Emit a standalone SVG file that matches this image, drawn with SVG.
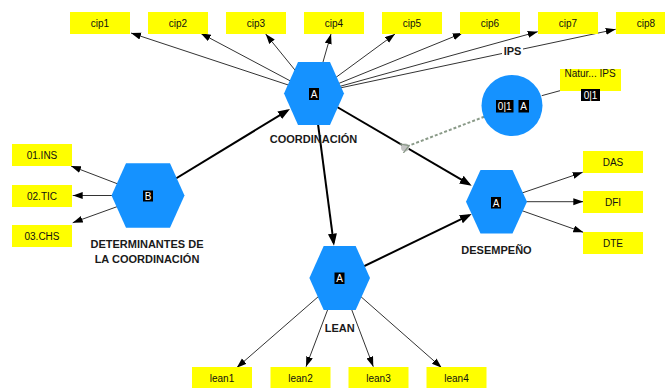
<svg xmlns="http://www.w3.org/2000/svg" width="665" height="388" viewBox="0 0 665 388">
  <style>
    .ind rect { fill: #ffff00; }
    .ind text { font-family: "Liberation Sans", Arial, sans-serif; font-size: 10px; fill: #111; text-anchor: middle; }
    .hex { fill: #1592ff; }
    .tag rect { fill: #000; }
    .tag text { font-family: "Liberation Sans", Arial, sans-serif; font-size: 10px; fill: #fff; text-anchor: middle; }
    .name { font-family: "Liberation Sans", Arial, sans-serif; font-size: 11px; font-weight: bold; fill: #1a1a1a; text-anchor: middle; }
    .thin { stroke: #333; stroke-width: 1; fill: none; marker-end: url(#ah); }
    .thick { stroke: #000; stroke-width: 2; fill: none; marker-end: url(#ahb); }
    .dash { stroke: #8a9a88; stroke-width: 2; stroke-dasharray: 3 2; fill: none; marker-end: url(#aho); }
  </style>
  <defs>
    <marker id="ah" markerUnits="userSpaceOnUse" markerWidth="10" markerHeight="8" refX="10" refY="3.5" orient="auto">
      <path d="M0,0 L10,3.5 L0,7 z" fill="#000"/>
    </marker>
    <marker id="ahb" markerUnits="userSpaceOnUse" markerWidth="13" markerHeight="10" refX="9" refY="4.5" orient="auto">
      <path d="M0,0 L12,4.5 L0,9 z" fill="#000"/>
    </marker>
    <marker id="aho" markerUnits="userSpaceOnUse" markerWidth="12" markerHeight="12" refX="1" refY="5" orient="auto">
      <path d="M9,0 L1,5 L9,10" fill="none" stroke="#8a9a88" stroke-width="1.3"/>
    </marker>
  </defs>

  <!-- connectors -->
  <g id="connectors">
    <!-- COORDINACIÓN outer loadings -->
    <line class="thin" x1="314" y1="93.5" x2="131" y2="33"/>
    <line class="thin" x1="314" y1="93.5" x2="200.7" y2="33.3"/>
    <line class="thin" x1="314" y1="93.5" x2="265.7" y2="34"/>
    <line class="thin" x1="314" y1="93.5" x2="331" y2="34"/>
    <line class="thin" x1="314" y1="93.5" x2="395" y2="34"/>
    <line class="thin" x1="314" y1="93.5" x2="462.7" y2="33"/>
    <line class="thin" x1="314" y1="93.5" x2="537.7" y2="31.7"/>
    <line class="thin" x1="314" y1="93.5" x2="615.7" y2="29.3"/>
    <!-- DETERMINANTES outer weights -->
    <line class="thin" x1="148" y1="195.5" x2="71" y2="166"/>
    <line class="thin" x1="148" y1="195.5" x2="72.7" y2="195.5"/>
    <line class="thin" x1="148" y1="195.5" x2="72.7" y2="222.7"/>
    <!-- DESEMPEÑO outer loadings -->
    <line class="thin" x1="496.5" y1="201.7" x2="582.7" y2="172.3"/>
    <line class="thin" x1="496.5" y1="201.7" x2="583.3" y2="201.7"/>
    <line class="thin" x1="496.5" y1="201.7" x2="583.3" y2="232.3"/>
    <!-- LEAN outer loadings -->
    <line class="thin" x1="339.7" y1="278" x2="236.7" y2="367.7"/>
    <line class="thin" x1="339.7" y1="278" x2="306" y2="366.7"/>
    <line class="thin" x1="339.7" y1="278" x2="373.3" y2="366.7"/>
    <line class="thin" x1="339.7" y1="278" x2="441.7" y2="367.7"/>
    <!-- structural paths -->
    <line class="thick" x1="148" y1="195.5" x2="287.4" y2="110.6"/>
    <line class="thick" x1="314" y1="93.5" x2="333.6" y2="242.7"/>
    <line class="thick" x1="314" y1="93.5" x2="469.1" y2="184.2"/>
    <line class="thick" x1="339.7" y1="278" x2="469" y2="215.3"/>
    <!-- moderating effect -->
    <line x1="541.7" y1="95.7" x2="560" y2="90.7" stroke="#333" stroke-width="1"/>
    <circle cx="405" cy="147.5" r="4" fill="#c4c4c4"/>
    <line class="dash" x1="484.3" y1="116.7" x2="409" y2="145.6"/>
    <!-- IPS label on the path -->
    <rect x="502" y="44" width="21" height="13" fill="#fff"/>
    <text class="name" x="512.5" y="54.5">IPS</text>
  </g>

  <!-- indicators -->
  <g id="cip1" class="ind"><rect x="70" y="12" width="60" height="22"/><text x="100" y="26.5">cip1</text></g>
  <g id="cip2" class="ind"><rect x="148" y="12" width="60" height="22"/><text x="178" y="26.5">cip2</text></g>
  <g id="cip3" class="ind"><rect x="226" y="12" width="60" height="22"/><text x="256" y="26.5">cip3</text></g>
  <g id="cip4" class="ind"><rect x="304" y="12" width="60" height="22"/><text x="334" y="26.5">cip4</text></g>
  <g id="cip5" class="ind"><rect x="382" y="12" width="60" height="22"/><text x="412" y="26.5">cip5</text></g>
  <g id="cip6" class="ind"><rect x="460" y="12" width="60" height="22"/><text x="490" y="26.5">cip6</text></g>
  <g id="cip7" class="ind"><rect x="538" y="12" width="60" height="22"/><text x="568" y="26.5">cip7</text></g>
  <g id="cip8" class="ind"><rect x="616" y="12" width="60" height="22"/><text x="646" y="26.5">cip8</text></g>

  <g id="ins" class="ind"><rect x="12" y="144" width="60" height="22"/><text x="42" y="158.5">01.INS</text></g>
  <g id="tic" class="ind"><rect x="12" y="185" width="60" height="22"/><text x="42" y="199.5">02.TIC</text></g>
  <g id="chs" class="ind"><rect x="12" y="225" width="60" height="22"/><text x="42" y="239.5">03.CHS</text></g>

  <g id="das" class="ind"><rect x="583" y="151" width="60" height="22"/><text x="613" y="165.5">DAS</text></g>
  <g id="dfi" class="ind"><rect x="583" y="191" width="60" height="22"/><text x="613" y="205.5">DFI</text></g>
  <g id="dte" class="ind"><rect x="583" y="232" width="60" height="22"/><text x="613" y="246.5">DTE</text></g>

  <g id="lean1" class="ind"><rect x="192" y="367" width="60" height="22"/><text x="222" y="381.5">lean1</text></g>
  <g id="lean2" class="ind"><rect x="270.5" y="367" width="60" height="22"/><text x="300.5" y="381.5">lean2</text></g>
  <g id="lean3" class="ind"><rect x="348.5" y="367" width="60" height="22"/><text x="378.5" y="381.5">lean3</text></g>
  <g id="lean4" class="ind"><rect x="426.5" y="367" width="60" height="22"/><text x="456.5" y="381.5">lean4</text></g>

  <!-- constructs -->
  <g id="coordinacion">
    <polygon class="hex" points="284,93.5 298,62 330,62 344,93.5 330,125 298,125"/>
    <g class="tag"><rect x="309" y="88" width="10" height="12"/><text x="314" y="97.5">A</text></g>
    <text class="name" x="313.5" y="143">COORDINACIÓN</text>
  </g>

  <g id="determinantes">
    <polygon class="hex" points="111.5,195.5 126,163.3 170,163.3 184.5,195.5 170,227.7 126,227.7"/>
    <g class="tag"><rect x="143" y="190.5" width="10" height="11"/><text x="148" y="199.5">B</text></g>
    <text class="name" x="147" y="248">DETERMINANTES DE</text>
    <text class="name" x="147" y="263">LA COORDINACIÓN</text>
  </g>

  <g id="desempeno">
    <polygon class="hex" points="466,201.7 480.5,170 512.5,170 527,201.7 512.5,233.4 480.5,233.4"/>
    <g class="tag"><rect x="491" y="197" width="10" height="11.5"/><text x="496" y="206.5">A</text></g>
    <text class="name" x="496.5" y="254">DESEMPEÑO</text>
  </g>

  <g id="lean">
    <polygon class="hex" points="309.4,278 323.7,246 355.7,246 370,278 355.7,310 323.7,310"/>
    <g class="tag"><rect x="334.5" y="272.5" width="10" height="11.5"/><text x="339.5" y="282">A</text></g>
    <text class="name" x="339.7" y="331.5">LEAN</text>
  </g>

  <g id="moderador">
    <circle cx="512" cy="105.5" r="30.5" fill="#1592ff"/>
    <g class="tag"><rect x="496" y="100" width="17.5" height="12.5"/><text x="504.7" y="110">0|1</text></g>
    <g class="tag"><rect x="518.5" y="100" width="10.5" height="12.5"/><text x="523.7" y="110">A</text></g>
  </g>

  <g id="natur-ips">
    <rect x="560" y="69" width="61" height="22" fill="#ffff00"/>
    <text x="590" y="76.5" font-family="Liberation Sans, Arial, sans-serif" font-size="10" fill="#111" text-anchor="middle">Natur... IPS</text>
    <g class="tag"><rect x="581" y="89" width="19" height="12"/><text x="590.5" y="98.5">0|1</text></g>
  </g>
</svg>
